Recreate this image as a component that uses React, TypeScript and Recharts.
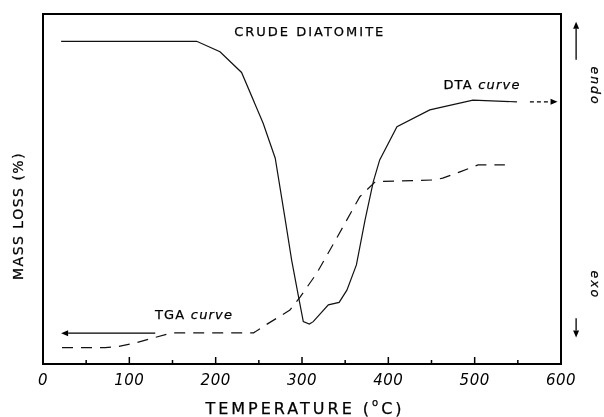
import React from 'react';
import { LineChart, Line, XAxis, YAxis, ReferenceArea, ReferenceLine, ReferenceDot } from 'recharts';

// DTA curve (solid)
const dtaTemp = [21, 178, 205, 230, 255, 269, 280, 288, 296, 301.5, 308.5, 313, 330.5, 343, 352, 363, 373, 382.6, 390, 410, 448, 498, 549];
const dtaValue = [92.2, 92.2, 89.2, 83.3, 68.8, 58.8, 42.1, 29.7, 19.2, 12.1, 11.4, 12.1, 16.9, 17.6, 21.1, 28.3, 41.1, 52.1, 58.3, 67.8, 72.6, 75.4, 74.9];

// TGA curve (dashed)
const tgaTemp = [22, 72, 85, 108, 130, 149, 244, 255, 286, 298, 317, 340, 367, 385, 454, 463, 483, 504, 535];
const tgaValue = [4.7, 4.7, 4.9, 6.1, 7.6, 8.9, 8.9, 10.7, 15.4, 19.2, 25.9, 35.9, 47.8, 52.1, 52.6, 53.1, 54.9, 56.9, 56.9];

const xTicks = [0, 50, 100, 150, 200, 250, 300, 350, 400, 450, 500, 550, 600];
const xLabelTicks = [0, 100, 200, 300, 400, 500, 600];

const dtaData = dtaTemp.map((t, i) => ({ t, v: dtaValue[i] }));
const tgaData = tgaTemp.map((t, i) => ({ t, v: tgaValue[i] }));

const FONT = '"DejaVu Sans", "Liberation Sans", sans-serif';

const Tick = (props: any) => {
  const { x, y, payload } = props;
  const major = xLabelTicks.includes(payload.value);
  return (
    <g>
      <line x1={x} y1={y} x2={x} y2={y - (major ? 7 : 4)} stroke="#000" strokeWidth={1.5} />
      {major && (
        <text x={x} y={y + 21} textAnchor="middle" fontFamily={FONT} fontStyle="italic" fontSize={15} fill="#000" letterSpacing={0.5}>
          {payload.value}
        </text>
      )}
    </g>
  );
};

const arrowShape = (dashed: boolean) => (p: any) => {
  const { x1, y1, x2, y2 } = p;
  const ang = Math.atan2(y2 - y1, x2 - x1);
  const L = 7, W = 3;
  const bx = x2 - L * Math.cos(ang), by = y2 - L * Math.sin(ang);
  const nx = -Math.sin(ang) * W, ny = Math.cos(ang) * W;
  return (
    <g>
      <line x1={x1} y1={y1} x2={bx} y2={by} stroke="#000" strokeWidth={1.3} strokeDasharray={dashed ? '4 3' : undefined} />
      <polygon points={`${x2},${y2} ${bx + nx},${by + ny} ${bx - nx},${by - ny}`} fill="#000" />
    </g>
  );
};

const textShape = (content: React.ReactNode, opts: any = {}) => (p: any) => {
  const { cx, cy } = p;
  const rot = opts.rotate ? `rotate(${opts.rotate}, ${cx}, ${cy})` : undefined;
  return (
    <text
      x={cx}
      y={cy}
      transform={rot}
      textAnchor="middle"
      dominantBaseline="central"
      fontFamily={FONT}
      fontSize={opts.size || 13}
      fontStyle={opts.italic ? 'italic' : 'normal'}
      letterSpacing={opts.spacing ?? 1}
      fill="#000"
      stroke="#000"
      strokeWidth={0.25}
    >
      {content}
    </text>
  );
};

export default function App() {
  return (
    <div style={{ position: 'fixed', left: 0, top: 0 }}>
      <LineChart width={604} height={417} margin={{ top: 14, right: 43, left: 43, bottom: 23 }}>
        <XAxis
          type="number"
          dataKey="t"
          domain={[0, 600]}
          ticks={xTicks}
          interval={0}
          tickSize={0}
          tickMargin={0}
          tickLine={false}
          axisLine={false}
          height={30}
          tick={<Tick />}
          allowDuplicatedCategory={false}
        />
        <YAxis type="number" domain={[0, 100]} hide />
        <ReferenceArea x1={0} x2={600} y1={0} y2={100} fill="none" stroke="#000" strokeWidth={2} ifOverflow="visible" />
        <Line data={dtaData} dataKey="v" type="linear" stroke="#111" strokeWidth={1.2} dot={false} isAnimationActive={false} />
        <Line data={tgaData} dataKey="v" type="linear" stroke="#111" strokeWidth={1.2} strokeDasharray="11 8" dot={false} isAnimationActive={false} />

        {/* arrows */}
        <ReferenceLine segment={[{ x: 130, y: 8.8 }, { x: 21, y: 8.8 }]} ifOverflow="visible" shape={arrowShape(false)} />
        <ReferenceLine segment={[{ x: 564, y: 74.9 }, { x: 596, y: 74.9 }]} ifOverflow="visible" shape={arrowShape(true)} />
        <ReferenceLine segment={[{ x: 617.5, y: 86.9 }, { x: 617.5, y: 97.8 }]} ifOverflow="visible" shape={arrowShape(false)} />
        <ReferenceLine segment={[{ x: 617.5, y: 13.1 }, { x: 617.5, y: 7.6 }]} ifOverflow="visible" shape={arrowShape(false)} />

        {/* texts */}
        <ReferenceDot x={309} y={94.9} r={0} ifOverflow="visible" shape={textShape('CRUDE DIATOMITE', { size: 13, spacing: 2 })} />
        <ReferenceDot x={508.5} y={79.9} r={0} ifOverflow="visible" shape={textShape(<><tspan>DTA </tspan><tspan fontStyle="italic">curve</tspan></>, { size: 13, spacing: 1.2 })} />
        <ReferenceDot x={175} y={14.3} r={0} ifOverflow="visible" shape={textShape(<><tspan>TGA </tspan><tspan fontStyle="italic">curve</tspan></>, { size: 13, spacing: 1.2 })} />
        <ReferenceDot x={639.5} y={79.4} r={0} ifOverflow="visible" shape={textShape('endo', { size: 12.5, italic: true, spacing: 2, rotate: 90 })} />
        <ReferenceDot x={639.5} y={22.6} r={0} ifOverflow="visible" shape={textShape('exo', { size: 12.5, italic: true, spacing: 2, rotate: 90 })} />
        <ReferenceDot x={-29} y={42.3} r={0} ifOverflow="visible" shape={textShape('MASS LOSS (%)', { size: 14, spacing: 1.5, rotate: -90 })} />
        <ReferenceDot
          x={303.5}
          y={-12.6}
          r={0}
          ifOverflow="visible"
          shape={textShape(<><tspan>TEMPERATURE (</tspan><tspan dy={-6} fontSize={10}>o</tspan><tspan dy={6}>C)</tspan></>, { size: 16, spacing: 3 })}
        />
      </LineChart>
    </div>
  );
}
